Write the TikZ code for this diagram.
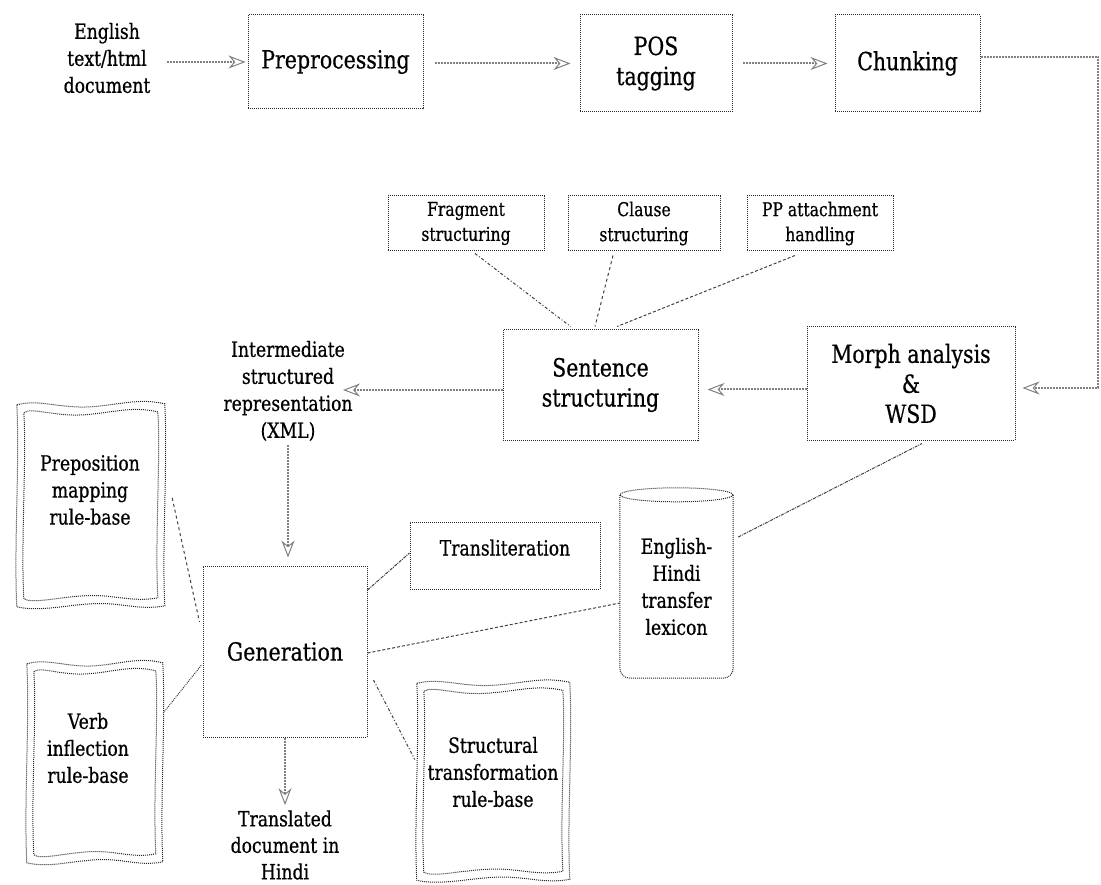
\documentclass[tikz,border=0pt]{standalone}
\usepackage{fontspec}
\setmainfont[FakeStretch=0.82, FakeBold=0.6]{DejaVu Serif}
\usetikzlibrary{arrows.meta,calc}

% one rippled loop: left, top, width, height (local coordinates)
\newcommand\ripple[4]{%
  \draw[frame] (#1,{#2+2})
    .. controls ({#1+0.15*#3},{#2-4}) and ({#1+0.3*#3},{#2+6}) .. ({#1+0.5*#3},{#2+4})
    .. controls ({#1+0.7*#3},{#2+2}) and ({#1+0.82*#3},{#2-5}) .. ({#1+#3},{#2+1})
    .. controls ({#1+#3+3},{#2+0.3*#4}) and ({#1+#3-3},{#2+0.7*#4}) .. ({#1+#3},{#2+#4-1})
    .. controls ({#1+0.82*#3},{#2+#4+4}) and ({#1+0.7*#3},{#2+#4-5}) .. ({#1+0.5*#3},{#2+#4-3})
    .. controls ({#1+0.3*#3},{#2+#4-1}) and ({#1+0.15*#3},{#2+#4+5}) .. (#1,{#2+#4})
    .. controls ({#1-3},{#2+0.7*#4}) and ({#1+3},{#2+0.3*#4}) .. cycle;}

% double rippled frame around a (borderless) node: name, width, height
\newcommand\wavyframe[3]{%
  \begin{scope}[shift={(#1.north west)}]
    \ripple{0}{0}{#2}{#3}
    \ripple{7}{8}{#2-14}{#3-16}
  \end{scope}}

\begin{document}
\begin{tikzpicture}[x=1pt,y=-1pt,
  frame/.style={draw=black!85, densely dotted, line width=1pt},
  box/.style={frame, rectangle, inner sep=0pt, align=center},
  big/.style={font=\fontsize{25}{30}\selectfont},
  mid/.style={font=\fontsize{21}{27}\selectfont},
  small/.style={font=\fontsize{19}{25}\selectfont},
  plain/.style={inner sep=2pt, align=center},
  arr/.style={draw=black!50, line width=2pt, densely dotted,
    -{Stealth[open, length=17pt, width=13pt, line width=1pt]}},
  conn/.style={draw=black!75, line width=1pt},
  every node/.style={text=black}]
\useasboundingbox (0,0) rectangle (1101,885);

% --- analysis pipeline, top row
\node[plain, mid] (doc) at (107,58) {English\\text/html\\document};
\node[box, big, minimum width=175, minimum height=94] (pre) at (335.5,62) {Preprocessing};
\node[box, big, minimum width=152, minimum height=97] (pos) at (656,63.5) {POS\\tagging};
\node[box, big, minimum width=145, minimum height=97] (chunk) at (907.5,63.5) {Chunking};

% --- structuring stage
\node[box, small, minimum width=156, minimum height=55] (frag) at (466,223.5) {Fragment\\structuring};
\node[box, small, minimum width=152, minimum height=55] (clause) at (644,223.5) {Clause\\structuring};
\node[box, small, minimum width=146, minimum height=55] (pp) at (820,223.5) {PP attachment\\handling};
\node[box, big, minimum width=195, minimum height=110] (sent) at (600.5,385) {Sentence\\structuring};
\node[box, big, minimum width=208, minimum height=113] (morph) at (911,383.5) {Morph analysis\\\&\\WSD};
\node[plain, mid] (imed) at (288,391) {Intermediate\\structured\\representation\\(XML)};

% --- generation stage
\node[box, big, minimum width=164, minimum height=171] (gen) at (285,651.5) {Generation};
\node[box, mid, minimum width=190, minimum height=67] (translit) at (505,555.5)
  {\raisebox{0pt}[0pt][0pt]{Transliteration}};
\node[plain, font=\fontsize{21}{26.5}\selectfont] (trans) at (285,845) {Translated\\document in\\Hindi};

% rule bases with rippled double frames
\node[inner sep=0pt, minimum width=148, minimum height=204] (prepbox) at (91,505) {};
\node[plain, mid] (preptext) at (90,490) {Preposition\\mapping\\rule-base};
\wavyframe{prepbox}{148}{204}
\node[inner sep=0pt, minimum width=136, minimum height=201] (verbbox) at (95,762.5) {};
\node[plain, mid] (verbtext) at (88,748) {Verb\\inflection\\rule-base};
\wavyframe{verbbox}{136}{201}
\node[inner sep=0pt, minimum width=153, minimum height=199] (structbox) at (493.5,781) {};
\node[plain, mid] (structtext) at (493,772) {Structural\\transformation\\rule-base};
\wavyframe{structbox}{153}{199}

% transfer lexicon drawn as a cylinder
\node[inner sep=0pt, align=center, mid, minimum width=113, minimum height=183] (lex) at (676.5,586.5)
  {English-\\Hindi\\transfer\\lexicon};
\draw[frame, rounded corners=10pt] (lex.north west) -- (lex.south west) -- (lex.south east) -- (lex.north east);
\draw[frame] (lex.north) ellipse [x radius=56.5, y radius=7];

% --- flow arrows
\coordinate (c1) at (1098,57);
\coordinate (c2) at (1098,388);
\coordinate (imedin) at (343,390);
\draw[arr, shorten <=14pt, shorten >=2pt] (doc.east |- pre.west) -- (pre.west);
\draw[arr, shorten <=11pt, shorten >=9pt] (pre.east |- pos.west) -- (pos.west);
\draw[arr, shorten <=10pt, shorten >=7pt] (pos.east) -- (chunk.west);
\draw[arr, shorten >=7pt] ([yshift=6.5pt]chunk.east) -- (c1) -- (c2) -- (c2 -| morph.east);
\draw[arr, shorten >=9pt] ([yshift=-6pt]morph.west) -- ([yshift=-6pt]morph.west -| sent.east);
\draw[arr] ([yshift=-5pt]sent.west) -- (imedin);
\draw[arr, shorten <=2pt, shorten >=8pt] (imed.south) -- (imed.south |- gen.north);
\draw[arr, shorten >=3pt] (gen.south) -- (trans.north);

% --- links to the structuring modules
\draw[conn, dash dot] ([xshift=9pt,yshift=-2pt]frag.south) -- ([xshift=-30pt,yshift=3pt]sent.north);
\draw[conn, dashed] ([xshift=-31pt,yshift=-4pt]clause.south) -- ([xshift=-5.5pt,yshift=3pt]sent.north);
\draw[conn, densely dashed] ([xshift=-25pt,yshift=-4pt]pp.south) -- ([xshift=16.5pt,yshift=3pt]sent.north);

% --- resources used by generation
\draw[conn, dashed] ([xshift=7pt,yshift=7pt]prepbox.east) -- ([xshift=-3pt,yshift=29.5pt]gen.west);
\draw[conn, densely dotted] ([yshift=49.5pt]verbbox.east) -- ([xshift=-1pt,yshift=-13.5pt]gen.west);
\draw[conn, densely dash dot] ([yshift=61.5pt]gen.east) -- ([yshift=2.5pt]translit.west);
\draw[conn, densely dashed] ([yshift=-1.5pt]gen.east) -- ([yshift=-16.5pt]lex.west);
\draw[conn, dash dot] ([xshift=6pt,yshift=-28.5pt]gen.east) -- ([xshift=-2pt,yshift=21.5pt]structbox.west);
\draw[conn, densely dash dot] ([xshift=5pt,yshift=49.5pt]lex.east) -- ([xshift=11pt,yshift=-3pt]morph.south);
\end{tikzpicture}
\end{document}
